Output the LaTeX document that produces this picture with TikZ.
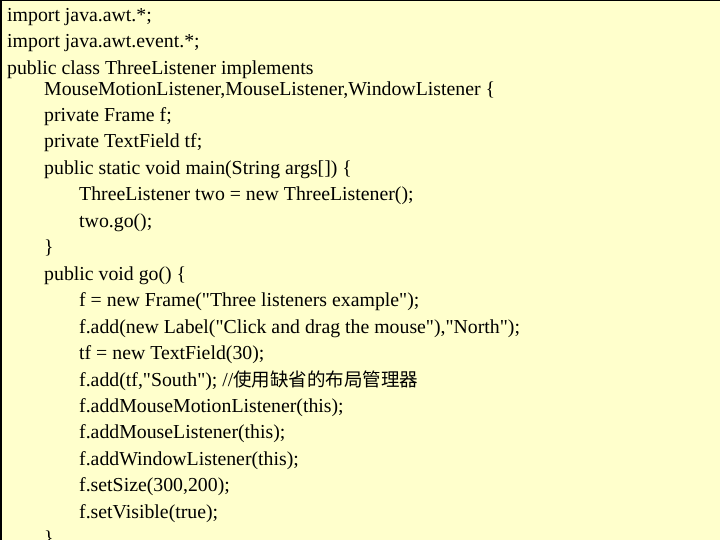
\documentclass[tikz,border=0pt]{standalone}
\usepackage{fontspec}
\setmainfont{Liberation Serif}[Ligatures=TeXOff]
\newfontfamily\cjk{Noto Sans CJK SC}
\definecolor{bg}{HTML}{FFFFCC}
\newcommand{\q}{"}
\begin{document}
\begin{tikzpicture}[x=1pt,y=-1pt,
  ln/.style={anchor=base west,inner sep=0pt,font=\fontsize{19.8}{22}\selectfont}]
\useasboundingbox (0,0) rectangle (720,540);
\fill[bg] (0,0) rectangle (720,540);
\draw[line width=1.5pt] (0.75,540) -- (0.75,0.75) -- (720,0.75);
\node[ln] (l1) at (7,22) {import java.awt.*;};
\node[ln] (l2) at (7,48) {import java.awt.event.*;};
\node[ln] (l3) at (7,75) {public class ThreeListener implements};
\node[ln] (l4) at (44,96) {MouseMotionListener,MouseListener,WindowListener \{};
\node[ln] (l5) at (44,122) {private Frame f;};
\node[ln] (l6) at (44,148) {private TextField tf;};
\node[ln] (l7) at (44,175) {public static void main(String args[]) \{};
\node[ln] (l8) at (79,201) {ThreeListener two = new ThreeListener();};
\node[ln] (l9) at (79,227) {two.go();};
\node[ln] (l10) at (44,254) {\}};
\node[ln] (l11) at (44,280) {public void go() \{};
\node[ln] (l12) at (79,306) {f = new Frame(\q Three listeners example\q);};
\node[ln] (l13) at (79,333) {f.add(new Label(\q Click and drag the mouse\q),\q North\q);};
\node[ln] (l14) at (79,359) {tf = new TextField(30);};
\node[ln] (l15) at (79,386) {f.add(tf,\q South\q); //{\cjk\fontsize{18.5}{20}\selectfont 使用缺省的布局管理器}};
\node[ln] (l16) at (79,412) {f.addMouseMotionListener(this);};
\node[ln] (l17) at (79,438) {f.addMouseListener(this);};
\node[ln] (l18) at (79,465) {f.addWindowListener(this);};
\node[ln] (l19) at (79,491) {f.setSize(300,200);};
\node[ln] (l20) at (79,518) {f.setVisible(true);};
\node[ln] (l21) at (44,544) {\}};
\end{tikzpicture}
\end{document}
